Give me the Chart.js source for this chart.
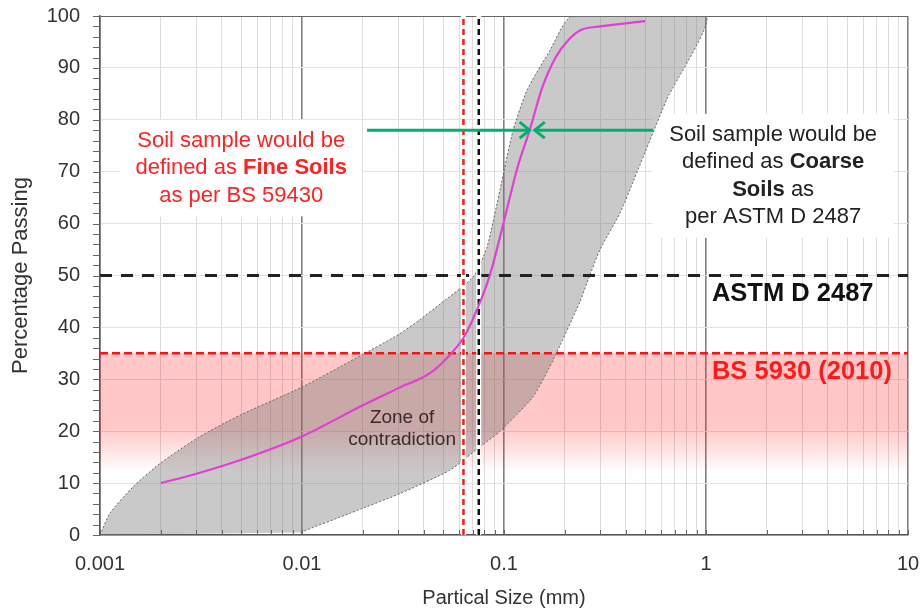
<!DOCTYPE html>
<html>
<head>
<meta charset="utf-8">
<script src="https://cdn.jsdelivr.net/npm/chart.js@4.4.1/dist/chart.umd.min.js"></script>
<style>
  html, body { margin: 0; padding: 0; background: #fff; }
  #wrap { width: 923px; height: 612px; }
</style>
</head>
<body>
<div id="wrap"><canvas id="grading"></canvas></div>
<script>
let grading = document.getElementById("grading");

// grading curve of the soil sample
const sampleSize = [0.002, 0.003, 0.005, 0.01, 0.02, 0.03, 0.043, 0.054, 0.063, 0.07, 0.085, 0.1, 0.117, 0.134, 0.154, 0.18, 0.21, 0.24, 0.3, 0.5];
const samplePassing = [10, 11.8, 14.5, 19, 25, 28.3, 31.2, 34.7, 38, 41.5, 50, 60.5, 71, 78, 86, 92, 95.5, 97.3, 98, 99];

// grey envelope (upper / left edge and lower / right edge)
const upperSize = [0.001, 0.00112, 0.00146, 0.002, 0.0031, 0.005, 0.01, 0.02, 0.03, 0.0384, 0.0482, 0.0703, 0.0824, 0.0955, 0.111, 0.13, 0.169, 0.217];
const upperPassing = [0, 4.2, 9.3, 13.9, 18.9, 23.2, 28.5, 34.8, 38.6, 41.5, 44.5, 49.7, 55.5, 66.5, 78, 85.7, 93.4, 100];
const lowerSize = [0.0098, 0.0173, 0.0306, 0.054, 0.076, 0.0955, 0.139, 0.175, 0.238, 0.257, 0.299, 0.375, 0.435, 0.641, 1.0];
const lowerPassing = [0.5, 4.2, 8, 12.5, 17, 20, 26.6, 33.7, 45, 48.5, 55, 62, 68, 84, 100];

// classification limits
const bsSieve = 0.063;
const astmSieve = 0.075;
const bsLimit = 35;
const astmLimit = 50;
const bsFadeTo = 12;

// green arrows
const arrowLevel = 78;
const arrowLeft = [0.021, 0.134];
const arrowRight = [0.547, 0.142];

const xRange = [0.001, 10];
const xTickLabels = ['0.001', '0.01', '0.1', '1', '10'];

const FONT = "'Liberation Sans', Arial, sans-serif";

function pts(xs, ys) {
  return xs.map((x, i) => ({x: x, y: ys[i]}));
}
function isDecade(v) {
  let l = Math.log10(v);
  return Math.abs(l - Math.round(l)) < 1e-6;
}

// envelope as one closed shape
let envelope = pts(upperSize, upperPassing).concat(pts(lowerSize, lowerPassing).reverse());

const dataGrading = {
  datasets: [
    { // arrows
      data: pts(arrowLeft, [arrowLevel, arrowLevel]),
      showLine: true, borderColor: '#00b06e', borderWidth: 3, order: 1
    },
    {
      data: pts(arrowRight, [arrowLevel, arrowLevel]),
      showLine: true, borderColor: '#00b06e', borderWidth: 3, order: 1
    },
    { // sample
      data: pts(sampleSize, samplePassing),
      showLine: true, borderColor: '#e23fd2', borderWidth: 2.2,
      cubicInterpolationMode: 'monotone', order: 2
    },
    { // vertical sieve lines, white under-stroke below them
      data: pts([bsSieve, bsSieve], [0, 100]),
      showLine: true, borderColor: '#ff1a1a', borderWidth: 2.5, borderDash: [6, 4], order: 3
    },
    {
      data: pts([astmSieve, astmSieve], [0, 100]),
      showLine: true, borderColor: '#111', borderWidth: 2.5, borderDash: [6, 4], order: 3
    },
    {
      data: pts([bsSieve, bsSieve], [0, 100]),
      showLine: true, borderColor: '#fff', borderWidth: 5, order: 4
    },
    {
      data: pts([astmSieve, astmSieve], [0, 100]),
      showLine: true, borderColor: '#fff', borderWidth: 5, order: 4
    },
    { // horizontal limits
      data: pts(xRange, [astmLimit, astmLimit]),
      showLine: true, borderColor: '#222', borderWidth: 3, borderDash: [12, 9], order: 5
    },
    {
      data: pts(xRange, [bsLimit, bsLimit]),
      showLine: true, borderColor: '#ff1010', borderWidth: 2.5, borderDash: [8, 4], order: 5
    },
    { // envelope
      data: envelope,
      showLine: true, fill: 'shape', tension: 0.2,
      borderColor: '#666', borderWidth: 1, borderDash: [2, 2],
      backgroundColor: 'rgba(120,120,120,0.4)', order: 6
    },
    { // pink BS band
      data: pts(xRange, [bsLimit, bsLimit]),
      showLine: true, borderWidth: 0, borderColor: 'rgba(0,0,0,0)',
      fill: {value: bsFadeTo}, order: 7,
      backgroundColor: function(c) {
        let ch = c.chart;
        if (!ch.chartArea) return 'rgba(255,0,0,0.2)';
        let ys = ch.scales.y;
        let g = ch.ctx.createLinearGradient(0, ys.getPixelForValue(bsLimit), 0, ys.getPixelForValue(bsFadeTo));
        g.addColorStop(0, 'rgba(255,0,0,0.22)');
        g.addColorStop(0.62, 'rgba(255,0,0,0.22)');
        g.addColorStop(1, 'rgba(255,0,0,0)');
        return g;
      }
    }
  ]
};

function drawRuns(ctx, runs, cx, cy, size, color) {
  let total = 0;
  runs.forEach(r => {
    ctx.font = (r[1] ? 'bold ' : '') + size + 'px ' + FONT;
    total += ctx.measureText(r[0]).width;
  });
  let x = cx - total / 2;
  ctx.fillStyle = color;
  ctx.textAlign = 'left';
  ctx.textBaseline = 'middle';
  runs.forEach(r => {
    ctx.font = (r[1] ? 'bold ' : '') + size + 'px ' + FONT;
    ctx.fillText(r[0], x, cy);
    x += ctx.measureText(r[0]).width;
  });
  return total;
}

const fineNote = {at: [0.005, 70.7], color: '#ff2222', lines: [
  [['Soil sample would be', false]],
  [['defined as ', false], ['Fine Soils', true]],
  [['as per BS 59430', false]]
]};
const coarseNote = {at: [2.15, 69.2], color: '#222', lines: [
  [['Soil sample would be', false]],
  [['defined as ', false], ['Coarse', true]],
  [['Soils', true], [' as', false]],
  [['per ASTM D 2487', false]]
]};
const NOTE_SIZE = 22, NOTE_LH = 27.5;

function noteBox(ctx, x, y, note) {
  let cx = x.getPixelForValue(note.at[0]);
  let cy = y.getPixelForValue(note.at[1]);
  let h = note.lines.length * NOTE_LH;
  ctx.font = NOTE_SIZE + 'px ' + FONT;
  let w = ctx.measureText('Soil sample would be').width;
  return {cx: cx, top: cy - h / 2, w: w, h: h};
}

const notes = {
  id: 'notes',
  beforeDatasetsDraw(chart) {
    const {ctx, scales: {x, y}} = chart;
    ctx.save();
    ctx.fillStyle = '#fff';
    [fineNote, coarseNote].forEach(n => {
      let b = noteBox(ctx, x, y, n);
      ctx.fillRect(b.cx - b.w / 2 - 17, b.top - 7, b.w + 34, b.h + 14);
    });
    ctx.restore();
  },
  afterDatasetsDraw(chart) {
    const {ctx, chartArea, scales: {x, y}} = chart;
    ctx.save();
    // small ticks: inside on x, outside on y
    ctx.strokeStyle = '#666';
    ctx.lineWidth = 1;
    ctx.beginPath();
    x.ticks.forEach(t => {
      let px = Math.round(x.getPixelForValue(t.value)) + 0.5;
      ctx.moveTo(px, chartArea.bottom);
      ctx.lineTo(px, chartArea.bottom - 5);
    });
    y.ticks.forEach(t => {
      let py = Math.round(y.getPixelForValue(t.value)) + 0.5;
      ctx.moveTo(chartArea.left - 7, py);
      ctx.lineTo(chartArea.left, py);
    });
    ctx.stroke();

    // arrow heads
    ctx.strokeStyle = '#00b06e';
    ctx.lineWidth = 3;
    let ay = y.getPixelForValue(arrowLevel);
    let tl = x.getPixelForValue(arrowLeft[1]);
    let tr = x.getPixelForValue(arrowRight[1]);
    ctx.beginPath();
    ctx.moveTo(tl - 10, ay - 8); ctx.lineTo(tl, ay); ctx.lineTo(tl - 10, ay + 8);
    ctx.moveTo(tr + 10, ay - 8); ctx.lineTo(tr, ay); ctx.lineTo(tr + 10, ay + 8);
    ctx.stroke();

    // notes
    [fineNote, coarseNote].forEach(n => {
      let b = noteBox(ctx, x, y, n);
      n.lines.forEach((line, i) => {
        drawRuns(ctx, line, b.cx, b.top + NOTE_LH * (i + 0.5), NOTE_SIZE, n.color);
      });
    });

    // limit labels
    ctx.textAlign = 'left';
    ctx.textBaseline = 'middle';
    ctx.font = 'bold 25.5px ' + FONT;
    ctx.fillStyle = '#111';
    ctx.fillText('ASTM D 2487', x.getPixelForValue(1.07), y.getPixelForValue(46.4));
    ctx.fillStyle = '#ff1a1a';
    ctx.fillText('BS 5930 (2010)', x.getPixelForValue(1.07), y.getPixelForValue(31.4));

    // zone text
    ctx.textAlign = 'center';
    ctx.font = '19px ' + FONT;
    ctx.fillStyle = '#3a2a2a';
    ctx.fillText('Zone of', x.getPixelForValue(0.0313), y.getPixelForValue(22.5));
    ctx.fillText('contradiction', x.getPixelForValue(0.0313), y.getPixelForValue(18.3));
    ctx.restore();
  }
};

const configGrading = {
  type: 'scatter',
  data: dataGrading,
  options: {
    responsive: true,
    maintainAspectRatio: false,
    animation: false,
    layout: { padding: { left: 0, right: 15, top: 16, bottom: 0 } },
    elements: { point: { radius: 0 }, line: { borderCapStyle: 'butt' } },
    plugins: {
      legend: { display: false },
      tooltip: { enabled: false }
    },
    scales: {
      x: {
        type: 'logarithmic',
        min: xRange[0],
        max: xRange[1],
        afterBuildTicks: function(s) {
          let t = [];
          for (let e = -3; e <= 0; e++) {
            for (let m = 1; m <= 9; m++) t.push({value: +(m * Math.pow(10, e)).toPrecision(3)});
          }
          t.push({value: 10});
          s.ticks = t;
        },
        afterFit: function(s) { s.height = 77; },
        border: { color: '#555', width: 1.5 },
        grid: {
          color: c => (c.tick && isDecade(c.tick.value)) ? '#808080' : '#dcdcdc',
          lineWidth: c => (c.tick && isDecade(c.tick.value)) ? 1.6 : 1,
          tickColor: 'rgba(0,0,0,0)',
          tickLength: 14
        },
        ticks: {
          autoSkip: false,
          maxRotation: 0,
          padding: 3,
          color: '#333',
          font: { family: FONT, size: 20 },
          callback: function(v) {
            return isDecade(v) ? xTickLabels[Math.round(Math.log10(v)) + 3] : '';
          }
        },
        title: {
          display: true,
          text: 'Partical Size (mm)',
          color: '#333',
          font: { family: FONT, size: 20 },
          padding: { top: 0, bottom: 2 }
        }
      },
      y: {
        min: 0,
        max: 100,
        afterFit: function(s) { s.width = 100; },
        border: { color: '#555', width: 1.5 },
        grid: {
          color: c => c.tick.value === 100 ? '#666' : (c.tick.value % 10 === 0 ? '#e2e2e2' : 'rgba(0,0,0,0)'),
          tickColor: 'rgba(0,0,0,0)',
          tickLength: 18
        },
        ticks: {
          stepSize: 2,
          autoSkip: false,
          padding: 2,
          color: '#333',
          font: { family: FONT, size: 20 },
          callback: v => v % 10 === 0 ? v : ''
        },
        title: {
          display: true,
          text: 'Percentage Passing',
          color: '#333',
          font: { family: FONT, size: 22 },
          padding: { top: 8, bottom: 0 }
        }
      }
    }
  },
  plugins: [notes]
};

let gradingGraph = new Chart(grading, configGrading);
</script>
</body>
</html>
